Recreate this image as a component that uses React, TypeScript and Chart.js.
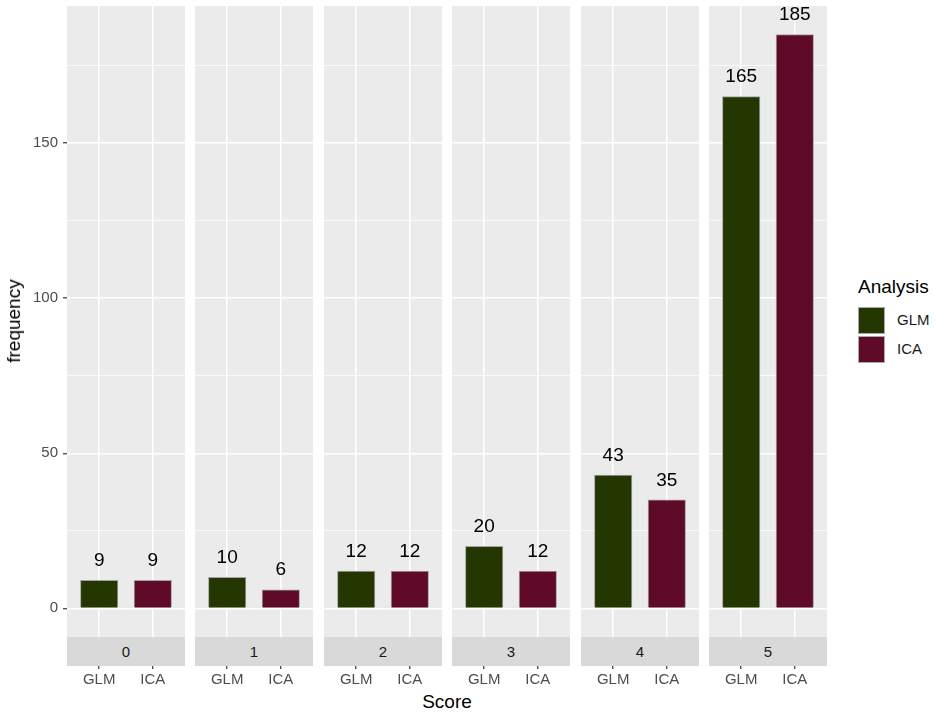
import { useEffect, useRef } from 'react';
import { Chart, registerables } from 'chart.js';

Chart.register(...registerables);

// data
const scores = ['0', '1', '2', '3', '4', '5'];
const analyses = ['GLM', 'ICA'];
const glmCounts = [9, 10, 12, 20, 43, 165];
const icaCounts = [9, 6, 12, 12, 35, 185];
const yMajorTicks = [0, 50, 100, 150];
const yMinorTicks = [25, 75, 125, 175];

const GLM_COLOR = '#243700';
const ICA_COLOR = '#5f0a29';
const FONT = '"Liberation Sans", Arial, sans-serif';

// layout (px)
const PLOT_TOP = 6;
const PLOT_BOTTOM = 637;
const CANVAS_H = 690;
const PANEL_W = 118;
const FIRST_LEFT = 67;
const PANEL_STEP = 128.4;

Chart.defaults.font.family = FONT;

const panelBg = {
    id: 'panelBg',
    beforeDraw(chart: any) {
        const { ctx, chartArea: a } = chart;
        ctx.save();
        ctx.fillStyle = '#EBEBEB';
        ctx.fillRect(a.left, a.top, a.right - a.left, a.bottom - a.top);
        ctx.restore();
    }
};

const valueLabels = {
    id: 'valueLabels',
    afterDatasetsDraw(chart: any) {
        const { ctx } = chart;
        ctx.save();
        ctx.font = `19px ${FONT}`;
        ctx.fillStyle = '#000';
        ctx.textAlign = 'center';
        ctx.textBaseline = 'middle';
        chart.data.datasets.forEach((ds: any, i: number) => {
            chart.getDatasetMeta(i).data.forEach((bar: any, j: number) => {
                ctx.fillText(String(ds.data[j].y), bar.x, bar.y - 19.5);
            });
        });
        ctx.restore();
    }
};

const isMajor = (ctx: any) => ctx.tick && yMajorTicks.includes(ctx.tick.value);

const Panel = ({ index }: { index: number }) => {
    const canvasRef = useRef(null);
    const chartRef = useRef<any>(null);
    const showY = index === 0;
    const left = showY ? 0 : Math.round(FIRST_LEFT + index * PANEL_STEP);
    const width = showY ? FIRST_LEFT + PANEL_W : PANEL_W;

    useEffect(() => {
        if (!canvasRef.current) return;
        if (chartRef.current) chartRef.current.destroy();

        chartRef.current = new Chart(canvasRef.current, {
            type: 'bar',
            data: {
                datasets: [
                    {
                        label: analyses[0],
                        data: [{ x: 1, y: glmCounts[index] }],
                        backgroundColor: GLM_COLOR,
                        borderColor: '#a3a3a3',
                        borderWidth: 1,
                        barThickness: 37.5,
                        grouped: false
                    },
                    {
                        label: analyses[1],
                        data: [{ x: 2, y: icaCounts[index] }],
                        backgroundColor: ICA_COLOR,
                        borderColor: '#a3a3a3',
                        borderWidth: 1,
                        barThickness: 37.5,
                        grouped: false
                    }
                ]
            },
            options: {
                responsive: false,
                animation: false,
                layout: { padding: { top: PLOT_TOP, left: 0, right: 0, bottom: 0 } },
                plugins: { legend: { display: false }, tooltip: { enabled: false } },
                scales: {
                    x: {
                        type: 'linear',
                        min: 0.4,
                        max: 2.6,
                        offset: false,
                        afterBuildTicks: (s: any) => { s.ticks = [{ value: 1 }, { value: 2 }]; },
                        afterFit: (s: any) => {
                            s.height = CANVAS_H - PLOT_BOTTOM;
                            s.paddingLeft = 0;
                            s.paddingRight = 0;
                        },
                        ticks: {
                            callback: (v: any) => analyses[v - 1] ?? '',
                            color: '#4D4D4D',
                            font: { size: 15 },
                            padding: 2,
                            maxRotation: 0,
                            autoSkip: false
                        },
                        grid: { offset: false, color: '#fff', lineWidth: 1.5, tickColor: '#333', tickLength: 32, tickWidth: 1.2 },
                        border: { display: false }
                    },
                    y: {
                        type: 'linear',
                        min: -9.25,
                        max: 194.25,
                        afterBuildTicks: (s: any) => {
                            s.ticks = [...yMajorTicks, ...yMinorTicks].sort((a, b) => a - b).map(v => ({ value: v }));
                        },
                        afterFit: (s: any) => {
                            s.width = showY ? FIRST_LEFT : 0;
                            s.paddingTop = 0;
                            s.paddingBottom = 0;
                        },
                        ticks: {
                            display: showY,
                            callback: (v: any) => (yMajorTicks.includes(v) ? String(v) : ''),
                            color: '#4D4D4D',
                            font: { size: 15 },
                            padding: 5,
                            autoSkip: false
                        },
                        grid: {
                            color: '#fff',
                            lineWidth: (c: any) => (isMajor(c) ? 1.5 : 0.75),
                            drawTicks: showY,
                            tickLength: 4,
                            tickWidth: 1.2,
                            tickColor: (c: any) => (isMajor(c) ? '#333' : 'rgba(0,0,0,0)')
                        },
                        border: { display: false }
                    }
                }
            },
            plugins: [panelBg, valueLabels]
        } as any);

        return () => { if (chartRef.current) chartRef.current.destroy(); };
    }, [index]);

    const stripLeft = showY ? FIRST_LEFT : left;

    return (
        <>
            <canvas
                ref={canvasRef}
                width={width}
                height={CANVAS_H}
                style={{ position: 'absolute', left, top: 0, width, height: CANVAS_H }}
            ></canvas>
            <div
                style={{
                    position: 'absolute',
                    left: stripLeft,
                    top: PLOT_BOTTOM,
                    width: PANEL_W,
                    height: 29,
                    background: '#D9D9D9',
                    color: '#1A1A1A',
                    fontSize: 15,
                    lineHeight: '29px',
                    textAlign: 'center'
                }}
            >
                {scores[index]}
            </div>
        </>
    );
};

const keyBox = (color: string, top: number) => (
    <div
        style={{
            position: 'absolute',
            left: 858,
            top,
            width: 25,
            height: 25,
            background: color,
            border: '1px solid #a8a8a8'
        }}
    />
);

export default function App() {
    return (
        <div
            style={{
                position: 'absolute',
                left: 0,
                top: 0,
                width: 935,
                height: 712,
                background: '#fff',
                fontFamily: FONT
            }}
        >
            {scores.map((_, i) => <Panel key={i} index={i} />)}

            <div
                style={{
                    position: 'absolute',
                    left: 14,
                    top: 321,
                    transform: 'translate(-50%, -50%) rotate(-90deg)',
                    whiteSpace: 'nowrap',
                    fontSize: 19,
                    color: '#000'
                }}
            >
                frequency
            </div>
            <div
                style={{
                    position: 'absolute',
                    left: FIRST_LEFT,
                    width: 760,
                    top: 691,
                    fontSize: 19,
                    lineHeight: '22px',
                    textAlign: 'center',
                    color: '#000'
                }}
            >
                Score
            </div>

            <div style={{ position: 'absolute', left: 858, top: 276, fontSize: 19, lineHeight: '22px', color: '#000' }}>
                Analysis
            </div>
            {keyBox(GLM_COLOR, 307)}
            {keyBox(ICA_COLOR, 336)}
            <div style={{ position: 'absolute', left: 897, top: 311, fontSize: 15, lineHeight: '18px', color: '#1A1A1A' }}>
                {analyses[0]}
            </div>
            <div style={{ position: 'absolute', left: 897, top: 340, fontSize: 15, lineHeight: '18px', color: '#1A1A1A' }}>
                {analyses[1]}
            </div>
        </div>
    );
}
